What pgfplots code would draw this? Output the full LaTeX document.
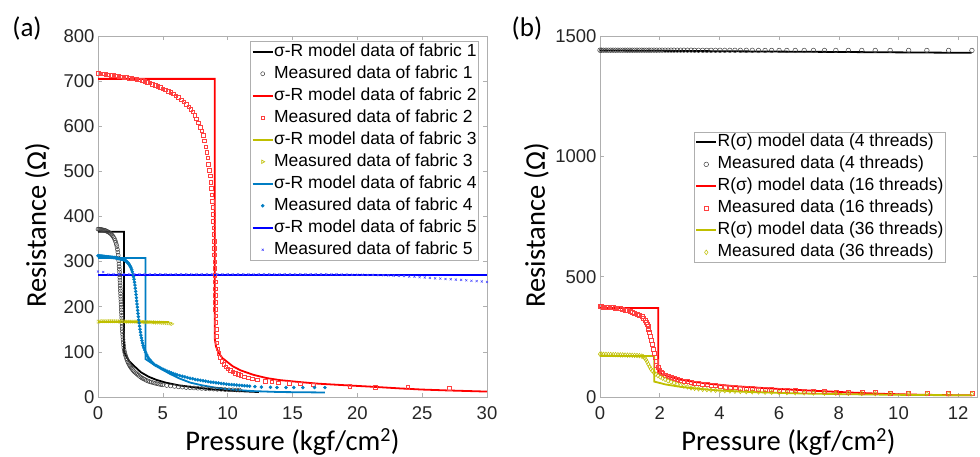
\documentclass[border=0pt]{standalone}
\usepackage{pgfplots}
\pgfplotsset{compat=1.18}
\usepackage{fontspec}
\setmainfont{Liberation Sans}
\newfontfamily\calibri{Carlito}

\definecolor{mblue}{RGB}{0,125,195}
\definecolor{molive}{RGB}{191,191,0}
\definecolor{frame}{RGB}{175,175,175}

\pgfplotsset{
  myax/.style={
    scale only axis, anchor=south west, height=361bp,
    axis line style={frame, line width=0.6bp},
    tick style={frame, line width=0.6bp},
    major tick length=4bp,
    tick label style={font=\fontsize{18.5bp}{20bp}\selectfont, text=black!85},
    /pgf/number format/assume math mode=true,
    /pgf/number format/1000 sep={},
    xticklabel style={yshift=-6bp},
    xlabel style={font=\calibri\fontsize{28.5bp}{30bp}\selectfont,
      at={(axis description cs:0.5,0)}, anchor=base, yshift=-53bp},
    ylabel style={font=\calibri\fontsize{28.5bp}{30bp}\selectfont, anchor=base},
    legend style={draw=frame, line width=0.6bp, fill=white,
      font=\fontsize{17.5bp}{20bp}\selectfont,
      inner xsep=1.5bp, inner ysep=1bp, row sep=3.2bp,
      nodes={inner xsep=0.5bp, inner ysep=1bp, text height=13bp, text depth=3.8bp}},
    legend cell align=left,
    legend image code/.code={\draw[mark repeat=2,mark phase=2,#1]
      plot coordinates {(0bp,0bp) (10bp,0bp) (20bp,0bp)};},
  },
  model/.style={line width=1.8bp, mark=none},
  meas/.style={only marks, mark options={line width=0.5bp, solid}},
}

\begin{document}
\begin{tikzpicture}
\path[use as bounding box] (0,0) rectangle (980bp,457bp);

\node[font=\calibri\fontsize{27bp}{30bp}\selectfont] at (27bp,428bp) {(a)};
\node[font=\calibri\fontsize{27bp}{30bp}\selectfont] at (527bp,428bp) {(b)};

% ---------------- panel (a)
\begin{axis}[myax,
  at={(98bp,60bp)}, width=389bp,
  xmin=0, xmax=30, ymin=0, ymax=800,
  xtick={0,5,...,30}, ytick={0,100,...,800},
  xlabel={Pressure (kgf/cm\textsuperscript{2})},
  ylabel={Resistance (Ω)},
  ylabel style={at={(axis description cs:-0.1337,0.476)}},
  legend style={at={(axis description cs:0.979,0.986)}, anchor=north east},
]
% fabric 1
\addplot[model, black] coordinates {(0,366)(2.0,366)(2.0,100)(2.4,80)(2.85,67)(3.3,55)(3.9,45)(4.5,38)(5.2,32)(6.2,26)(7.5,21)(8.8,17)(10.5,13.5)(12.4,11)};
\addlegendentry{σ-R model data of fabric 1}
\addplot[meas, black!75, mark=o, mark size=2bp] coordinates {
(0,372)(0.07,372)(0.14,371.5)(0.21,371.5)(0.28,371)(0.35,370.5)(0.42,370)(0.49,369.5)(0.56,369)(0.63,368)
(0.7,367)(0.77,366)(0.84,365)(0.91,363.5)(0.98,362)(1.05,360)(1.12,357.5)(1.19,354.5)(1.26,351)(1.32,347)
(1.37,343)(1.42,338)(1.46,333)(1.5,327)(1.53,321)(1.56,314)(1.58,308)(1.6,302)(1.62,295)(1.635,289)
(1.65,283)(1.66,277)(1.67,271)(1.68,265)(1.69,259)(1.7,253)(1.71,247)(1.72,241)(1.73,235)(1.74,229)
(1.75,223)(1.76,217)(1.77,211)(1.78,205)(1.79,199)(1.8,193)(1.81,187)(1.82,181)(1.83,175)(1.84,169)
(1.85,163)(1.86,157)(1.87,151)(1.885,145)(1.9,139)(1.915,133)(1.93,127)(1.95,121)(1.97,115)(1.99,109)
(2.02,104)(2.06,99)(2.1,94)(2.15,89.5)(2.2,85)(2.25,81.5)(2.3,78)(2.35,75)(2.4,72)(2.45,69.5)
(2.5,67)(2.57,64)(2.65,61)(2.72,58.5)(2.8,56)(2.9,53.5)(3.0,51)(3.1,48.5)(3.2,46)(3.3,44)
(3.4,42)(3.5,40.5)(3.6,39)(3.72,37)(3.85,35.5)(3.97,34)(4.1,33)(4.25,31.5)(4.4,30.5)(4.55,29.5)
(4.7,28.5)(4.85,27.5)(5.0,27)(5.3,25.5)(5.6,24.5)(5.9,23.5)(6.2,22.5)(6.5,22)(6.8,21)(7.1,20.5)
(7.4,20)(7.7,19.5)(8.0,19)(8.3,18.5)(8.6,18)(8.9,17.5)(9.2,17)(9.5,17)(9.8,16.5)(10.1,16)
(10.4,16)(10.7,15.5)(10.9,15.5)};
\addlegendentry{Measured data of fabric 1}
% fabric 2
\addplot[model, red] coordinates {(0,705)(9.0,705)(9.0,130)(9.1,112)(9.3,98)(9.6,86)(10,77)(10.4,68)(11,59)(12,49)(13,42)(14,37.5)(15.6,33)(17,29.5)(19.4,25.5)(21,23)(23.3,19)(25,16.5)(27,14.5)(30,12)};
\addlegendentry{σ-R model data of fabric 2}
\addplot[meas, red!75, mark=square, mark size=1.8bp] coordinates {
(0,717)(0.2,716.5)(0.4,716)(0.6,715)(0.8,714)(1.0,713)(1.2,712.5)(1.4,711.5)(1.6,710.5)(1.8,709.5)
(2.0,709)(2.2,708)(2.4,707)(2.6,706)(2.8,705.5)(3.0,704.5)(3.2,703)(3.4,701.5)(3.6,700)(3.8,698)
(4.0,696)(4.2,693.5)(4.4,691)(4.6,688.5)(4.8,686)(5.0,683.5)(5.2,681)(5.4,678)(5.6,675)(5.8,672)
(6.0,668)(6.2,664)(6.4,659)(6.6,654)(6.8,649)(7.0,643)(7.15,638)(7.3,632)(7.45,625)(7.6,617)
(7.75,608)(7.9,598)(8.0,590)(8.1,580)(8.2,568)(8.3,555)(8.38,542)(8.45,530)(8.52,516)(8.58,503)
(8.64,490)(8.69,476)(8.74,462)(8.78,448)(8.82,434)(8.85,420)(8.88,405)(8.9,390)(8.92,375)(8.94,360)
(8.96,345)(8.97,330)(8.98,315)(8.99,300)(9.0,285)(9.01,270)(9.02,255)(9.03,240)(9.04,225)(9.05,210)
(9.06,195)(9.07,180)(9.08,165)(9.1,150)(9.13,135)(9.17,120)(9.23,107)(9.3,97)(9.4,88)(9.55,79)
(9.7,72)(9.85,67)(10.0,63)(10.2,59)(10.4,56)(10.6,53)(10.8,50)(11.0,48)(11.3,45)(11.6,42.5)
(11.9,40.5)(12.3,38)(12.9,35.5)(13.4,33.5)(13.9,32)(14.75,30)(15.6,29)(16.6,27)(19.4,24)(21.4,22)
(23.9,21)(27.1,20)};
\addlegendentry{Measured data of fabric 2}
% fabric 3
\addplot[model, molive] coordinates {(0,166)(5.5,166)};
\addlegendentry{σ-R model data of fabric 3}
\addplot[meas, molive, mark=triangle, mark size=2bp, mark options={rotate=-90}] coordinates {
(0,167)(0.15,167)(0.3,168)(0.45,168)(0.6,168)(0.75,168)(0.9,168)(1.05,168)(1.2,168)(1.35,168)
(1.5,168)(1.65,167.5)(1.8,167.5)(1.95,167.5)(2.1,167.5)(2.25,167)(2.4,167)(2.55,167)(2.7,167)(2.85,167)
(3.0,167)(3.15,166.5)(3.3,166.5)(3.45,166.5)(3.6,166)(3.75,166)(3.9,166)(4.05,166)(4.2,165.5)(4.35,165.5)
(4.5,165)(4.65,165)(4.8,165)(4.95,164.5)(5.1,164.5)(5.25,164)(5.4,163.5)(5.55,163)(5.7,162)};
\addlegendentry{Measured data of fabric 3}
% fabric 4
\addplot[model, mblue] coordinates {(0,308)(3.67,308)(3.67,84)(4.3,72)(4.9,62)(5.5,52)(6.2,42)(7.1,32)(8,26)(9,21)(10,17.5)(11,15)(12,13)(14,11)(17.5,10)};
\addlegendentry{σ-R model data of fabric 4}
\addplot[meas, mblue, mark=*, mark size=1.5bp] coordinates {
(0,313)(0.075,313)(0.15,312.5)(0.225,312.5)(0.3,312)(0.375,312)(0.45,311.5)(0.525,311.5)(0.6,311)(0.675,311)
(0.75,310.5)(0.825,310.5)(0.9,310)(0.975,310)(1.05,309.5)(1.125,309.5)(1.2,309)(1.275,309)(1.35,308.5)(1.425,308)
(1.5,307.5)(1.575,307)(1.65,306.5)(1.725,306)(1.8,305.5)(1.875,305)(1.95,304.5)(2.025,303.5)
(2.1,302.5)(2.15,301.5)(2.2,300.5)(2.25,299)(2.3,297.5)(2.35,296)(2.4,294)(2.45,291.5)(2.5,289)(2.55,286)
(2.6,282)(2.65,277.5)(2.7,272)(2.74,266.5)(2.78,261)(2.815,254.5)(2.85,248)(2.88,241)(2.91,234)(2.935,227)
(2.96,220)(2.985,213)(3.01,206)(3.035,199)(3.06,192)(3.085,185)(3.11,178)(3.14,171)(3.17,164)(3.205,157)
(3.24,150)(3.275,143.5)(3.31,137)(3.35,131)(3.39,125)(3.43,119.5)(3.48,114)(3.54,109)(3.6,104)(3.67,99)
(3.75,94)(3.82,90)(3.9,86)(4.0,82.5)(4.1,79)(4.22,75.5)(4.35,72)(4.47,70)(4.6,68)(4.75,65.5)
(4.9,63)(5.05,61)(5.2,59)(5.35,57)(5.5,55.5)(5.65,53.5)(5.8,52)(5.95,50.5)(6.1,49)(6.3,47.5)
(6.5,46)(6.7,44.5)(6.9,43)(7.1,41.5)(7.3,40.5)(7.5,39)(7.7,38)(7.9,37)(8.1,36)(8.3,35)
(8.5,34)(8.7,33)(8.9,32.5)(9.1,31.5)(9.3,31)(9.5,30)(9.7,29.5)(9.9,28.5)(10.1,28)(10.3,27.5)
(10.5,27)(10.7,26.5)(10.9,26)(11.1,25.5)(11.3,25)(11.5,24.5)(11.7,24)(12.1,23)(12.6,22)(13.3,21.5)
(13.8,21)(14.5,21)(15.1,21)(15.8,21)(16.7,21)(17.5,21)};
\addlegendentry{Measured data of fabric 4}
% fabric 5
\addplot[model, blue] coordinates {(0,270)(30,270)};
\addlegendentry{σ-R model data of fabric 5}
\addplot[meas, blue!70, mark=x, mark size=1.5bp] coordinates {
(0,278)(0.4,277)(0.8,272)(1.2,272)(1.6,272)(2.0,272)(2.4,272)(2.8,272)(3.2,272)(3.6,272)
(4.0,272)(4.4,272)(4.8,272)(5.2,272)(5.6,272)(6.0,272)(6.4,272)(6.8,272)(7.2,272)(7.6,272)
(8.0,272)(8.4,272)(8.8,272)(9.2,272)(9.6,272)(10.0,272)(10.4,272)(10.8,272)(11.2,272)(11.6,272)
(12.0,272)(12.4,272)(12.8,272)(13.2,272)(13.6,272)(14.0,272)(14.4,272)(14.8,272)(15.2,272)(15.6,272)
(16.0,272)(16.4,272)(16.8,272)(17.2,272)(17.6,272)(18.0,272)(18.4,272)(18.8,271.5)(19.2,271.5)(19.6,271)
(20.0,271)(20.4,271)(20.8,270.5)(21.2,270.5)(21.6,270)(22.0,270)(22.4,269.5)(22.8,269)(23.2,268.5)(23.6,268)
(24.0,267)(24.4,266.5)(24.8,265.5)(25.2,265)(25.6,264)(26.0,263)(26.4,262.5)(26.8,261.5)(27.2,261)(27.6,260)
(28.0,259.5)(28.4,258.5)(28.8,257.5)(29.2,257)(29.6,256)(30.0,255)};
\addlegendentry{Measured data of fabric 5}
\end{axis}

% ---------------- panel (b)
\begin{axis}[myax,
  at={(600bp,60bp)}, width=377bp,
  xmin=0, xmax=12.63, ymin=0, ymax=1500,
  xtick={0,2,...,12}, ytick={0,500,1000,1500},
  xlabel={Pressure (kgf/cm\textsuperscript{2})},
  ylabel={Resistance (Ω)},
  ylabel style={at={(axis description cs:-0.146,0.476)}},
  legend style={at={(axis description cs:0.917,0.735)}, anchor=north east},
]
\addplot[model, black] coordinates {(0,1440)(12.45,1430)};
\addlegendentry{R(σ) model data (4 threads)}
\addplot[meas, black!75, mark=o, mark size=2.3bp] coordinates {
(0,1441)(0.05,1441)(0.12,1441)(0.2,1441)(0.28,1441)(0.36,1441)(0.44,1441)(0.52,1441)(0.6,1441)(0.68,1441)
(0.76,1441)(0.84,1441)(0.92,1441)(1.0,1441)(1.08,1441)(1.16,1441)(1.24,1441)(1.32,1441)(1.4,1441)(1.48,1441)
(1.56,1441)(1.64,1441)(1.72,1441)(1.81,1441)(1.9,1441)(1.99,1441)(2.08,1441)(2.18,1441)(2.28,1441)(2.38,1441)
(2.48,1441)(2.59,1441)(2.7,1441)(2.81,1441)(2.93,1441)(3.05,1441)(3.17,1440.5)(3.3,1440.5)(3.44,1440.5)(3.58,1440.5)
(3.72,1440.5)(3.87,1440.5)(4.02,1440.5)(4.18,1440.5)(4.35,1440.5)(4.52,1440.5)(4.7,1440.5)(4.9,1440.5)(5.1,1440.5)(5.31,1440)
(5.53,1440)(5.75,1440)(6.0,1440)(6.26,1440)(6.54,1440)(6.84,1440)(7.15,1440)(7.52,1440)(7.9,1440)(8.32,1440)
(8.77,1440)(9.22,1440)(9.72,1440)(10.34,1440)(10.95,1440)(11.68,1440)(12.46,1440)};
\addlegendentry{Measured data (4 threads)}
\addplot[model, red] coordinates {(0,370)(1.95,370)(1.95,100)(2.3,85)(2.7,72)(3.2,62)(3.8,53)(4.5,45)(5.5,37)(6.5,30)(7.5,24)(8.5,18)(9.5,13)(10.5,10)(11.5,8)(12.45,7)};
\addlegendentry{R(σ) model data (16 threads)}
\addplot[meas, red!75, mark=square, mark size=2bp] coordinates {
(0,375)(0.05,375)(0.12,374.5)(0.2,374)(0.28,373.5)(0.36,372.5)(0.44,371.5)(0.52,370)(0.6,368.5)(0.68,367)
(0.76,364.5)(0.84,362)(0.92,359)(1.0,356)(1.08,353)(1.16,349)(1.24,345)(1.32,340)(1.4,334)(1.45,328)
(1.5,320)(1.54,312)(1.57,304)(1.6,294)(1.63,282)(1.66,268)(1.69,252)(1.72,236)(1.75,218)(1.78,200)
(1.81,182)(1.84,164)(1.87,148)(1.9,134)(1.94,122)(1.99,112)(2.04,104)(2.1,97)(2.18,91)(2.28,85)
(2.38,80)(2.48,76)(2.59,73)(2.7,70)(2.81,67)(2.93,64)(3.05,62)(3.17,59)(3.3,56)(3.44,54)
(3.58,51)(3.72,49)(3.87,47)(4.02,44)(4.18,42)(4.35,41)(4.52,39)(4.7,38)(4.9,36.5)(5.1,35)
(5.31,33.5)(5.53,32)(5.75,31)(6.0,29.5)(6.26,28)(6.54,26.5)(6.84,25)(7.15,23.5)(7.52,22.5)(7.9,21)
(8.32,20)(8.77,19)(9.22,18)(9.72,17.5)(10.34,17)(10.95,16.5)(11.68,16)(12.46,15.5)};
\addlegendentry{Measured data (16 threads)}
\addplot[model, molive] coordinates {(0,170)(1.82,170)(1.82,64)(2.2,52)(2.6,44)(3,38)(3.5,32)(4,27)(5,21)(6,17)(7,14)(8,12)(9,10.5)(10,9)(11,8)(12.45,7)};
\addlegendentry{R(σ) model data (36 threads)}
\addplot[meas, molive, mark=diamond, mark size=2.3bp] coordinates {
(0,178)(0.05,178)(0.12,177.5)(0.2,177)(0.28,177)(0.36,176.5)(0.44,176)(0.52,176)(0.6,175.5)(0.68,175)
(0.76,175)(0.84,174.5)(0.92,174)(1.0,174)(1.08,173.5)(1.16,173)(1.24,172.5)(1.32,171.5)(1.4,170)(1.45,167)
(1.5,162)(1.54,155)(1.58,146)(1.62,136)(1.66,126)(1.7,117)(1.75,109)(1.81,101)(1.87,95)(1.94,89)
(2.02,83)(2.1,78)(2.18,73)(2.28,67)(2.38,62)(2.48,58)(2.59,53)(2.7,49)(2.81,45)(2.93,42)
(3.05,38)(3.17,36)(3.3,34)(3.44,32)(3.58,30.5)(3.72,29)(3.87,28)(4.02,27)(4.18,26)(4.35,25)
(4.52,24)(4.7,23)(4.9,22)(5.1,21.5)(5.31,21)(5.53,20)(5.75,19.5)(6.0,19)(6.26,18)(6.54,17.5)
(6.84,17)(7.15,16.5)(7.52,16)(7.9,15.5)(8.32,15)(8.77,14.5)(9.22,14)(9.72,14)(10.34,13.5)(10.95,13.5)
(11.68,13)(12.46,13)};
\addlegendentry{Measured data (36 threads)}
\end{axis}
\end{tikzpicture}
\end{document}
